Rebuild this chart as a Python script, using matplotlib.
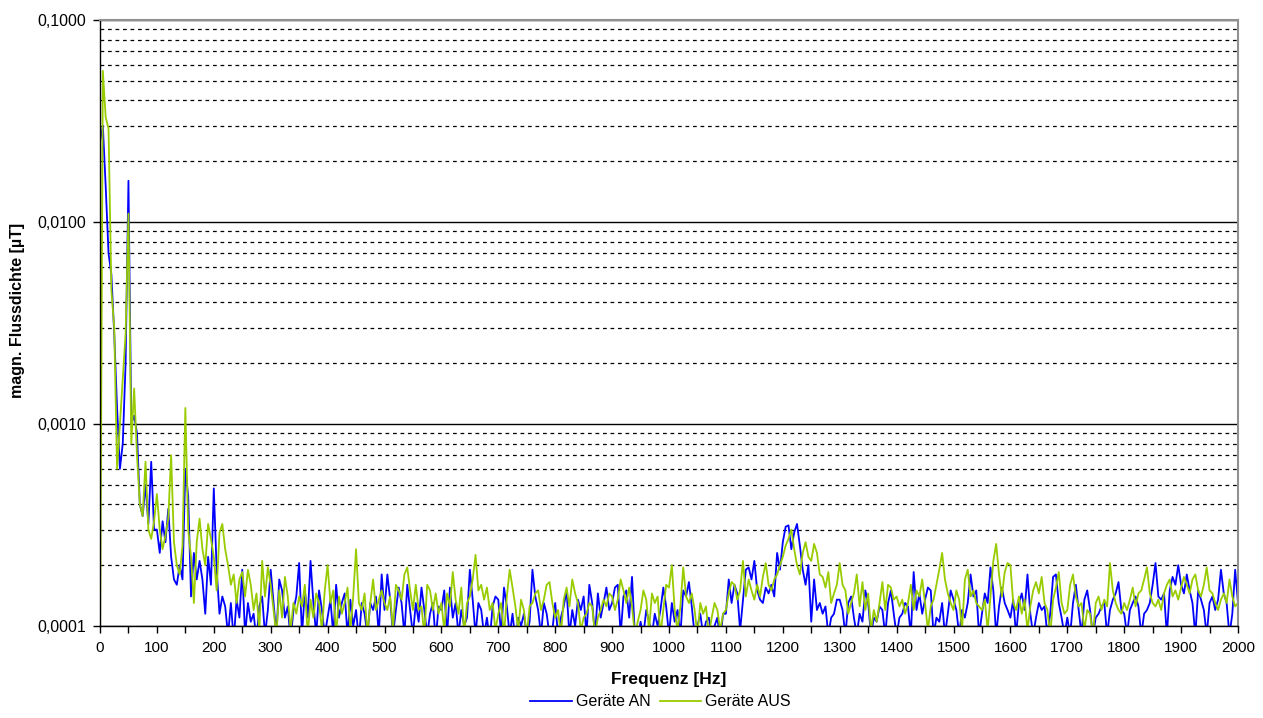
import numpy as np
import matplotlib
matplotlib.use("Agg")
import matplotlib.pyplot as plt
from matplotlib.ticker import MultipleLocator, FixedLocator, NullFormatter

plt.rcParams['font.family'] = ['Liberation Sans', 'DejaVu Sans']

# Frequency grid of the readings (Hz)
freq = np.arange(0, 2001, 5)

# Magnetic flux density, in units of 1e-4 µT
# (values below 1 sit under the bottom edge of the chart)
geraete_an_e4 = [
    250, 300, 150, 70, 55, 28, 12, 6, 8, 20, 160, 10, 11, 9, 4, 3.5, 5, 3.2, 6.5, 3.0,
    3.0, 2.3, 3.3, 2.6, 3.8, 2.2, 1.7, 1.6, 2.0, 1.7, 6.0, 4.4, 1.4, 2.3, 1.7, 2.1, 1.7, 1.15, 2.2, 1.6,
    4.8, 1.9, 1.15, 1.4, 1.25, 0.9, 1.3, 0.85, 1.35, 1.1, 1.9, 0.9, 1.3, 1.05, 1.15, 0.85, 1.25, 1.4, 0.9, 1.2,
    1.9, 1.3, 0.9, 1.7, 1.5, 1.1, 1.25, 0.85, 1.2, 1.4, 2.05, 0.9, 1.5, 1.1, 2.1, 1.3, 0.9, 1.5, 1.2, 0.9,
    1.1, 1.35, 0.9, 1.6, 1.1, 1.3, 1.45, 0.9, 1.35, 1.0, 1.2, 0.85, 1.3, 1.15, 0.9, 1.3, 1.2, 1.4, 0.9, 1.8,
    1.2, 1.8, 1.35, 0.9, 1.2, 1.55, 1.3, 0.9, 1.6, 1.2, 0.9, 1.3, 1.05, 1.55, 1.2, 0.9, 1.15, 1.3, 0.85, 1.25,
    1.2, 1.5, 0.9, 1.55, 1.1, 1.3, 0.9, 1.2, 1.0, 1.1, 1.9, 1.35, 0.9, 1.3, 1.2, 0.9, 1.1, 0.85, 1.25, 1.4,
    1.35, 0.9, 1.55, 1.25, 0.9, 1.15, 0.85, 1.1, 1.0, 1.15, 0.9, 1.05, 1.9, 1.4, 1.2, 0.9, 1.3, 1.15, 0.9, 0.95,
    1.3, 0.9, 1.1, 1.25, 1.5, 0.9, 1.2, 1.0, 1.35, 1.2, 1.4, 0.9, 1.6, 1.3, 0.9, 1.45, 1.1, 1.3, 1.55, 1.2,
    1.3, 1.55, 1.6, 0.9, 1.4, 1.5, 1.1, 1.75, 0.9, 0.85, 1.05, 0.9, 1.2, 1.05, 0.9, 1.15, 1.0, 1.2, 1.55, 1.25,
    0.9, 1.3, 1.05, 1.2, 0.9, 1.5, 1.4, 1.65, 1.25, 0.9, 1.0, 1.15, 0.9, 1.05, 1.1, 0.9, 1.0, 1.1, 0.85, 1.15,
    1.15, 1.7, 1.3, 1.6, 1.45, 0.95, 1.35, 1.9, 1.95, 1.7, 2.1, 1.5, 1.35, 1.3, 1.55, 1.45, 1.6, 1.4, 2.3, 1.9,
    2.6, 3.1, 3.15, 2.4, 2.9, 3.2, 2.5, 1.9, 1.6, 2.0, 1.05, 1.7, 1.2, 1.3, 1.15, 1.25, 0.9, 1.1, 1.15, 1.35,
    1.35, 1.2, 0.9, 1.3, 1.4, 1.1, 0.9, 1.15, 1.05, 1.5, 1.3, 0.9, 1.1, 1.05, 1.25, 1.2, 0.9, 1.3, 1.5, 1.15,
    0.9, 1.1, 1.15, 1.3, 1.25, 0.9, 1.85, 1.2, 1.45, 1.15, 1.35, 1.55, 1.5, 0.9, 1.1, 1.05, 1.3, 0.9, 1.15, 1.5,
    1.35, 1.2, 0.9, 1.2, 1.1, 1.3, 1.8, 1.4, 1.5, 0.9, 1.15, 1.45, 1.3, 1.95, 1.5, 0.9, 1.25, 1.55, 1.3, 1.2,
    1.1, 1.35, 0.9, 1.3, 1.45, 1.2, 1.8, 1.15, 0.9, 1.1, 1.3, 1.2, 1.25, 0.9, 1.15, 1.75, 1.8, 1.3, 1.1, 0.9,
    1.1, 0.9, 1.3, 1.6, 1.2, 0.9, 1.35, 1.5, 1.2, 0.9, 1.1, 1.15, 1.25, 1.3, 0.9, 1.2, 1.35, 1.45, 1.65, 1.2,
    1.15, 0.9, 1.2, 1.3, 1.4, 1.25, 0.9, 1.15, 1.2, 1.3, 1.6, 2.05, 1.4, 1.35, 1.45, 0.9, 1.5, 1.75, 1.6, 2.0,
    1.6, 1.45, 1.8, 1.5, 1.3, 0.9, 1.5, 1.35, 1.2, 0.9, 1.3, 1.4, 1.2, 1.35, 1.9, 1.45, 1.3, 0.9, 1.15, 1.9,
    1.3,
]

geraete_aus_e4 = [
    0.7, 560, 330, 290, 46, 30, 6, 10, 17, 28, 110, 8, 15, 7, 4, 3.5, 6.5, 3.0, 2.7, 3.3,
    4.5, 3.0, 2.4, 2.8, 3.4, 7.0, 2.6, 2.0, 1.8, 2.5, 12, 3.0, 2.2, 1.3, 2.6, 3.4, 2.4, 2.0, 3.2, 2.7,
    2.2, 1.5, 2.9, 3.2, 2.4, 2.0, 1.6, 1.8, 1.3, 1.7, 1.85, 1.4, 1.9, 1.6, 1.2, 1.45, 0.95, 2.1, 1.4, 1.95,
    1.6, 1.2, 0.9, 1.5, 1.1, 1.75, 1.4, 0.95, 1.3, 1.15, 1.4, 1.25, 1.6, 0.9, 1.35, 1.1, 1.45, 1.3, 0.95, 1.5,
    2.0, 1.3, 1.5, 0.9, 1.4, 1.15, 1.3, 1.55, 0.95, 1.4, 2.4, 1.3, 1.2, 1.45, 0.9, 1.3, 1.7, 1.2, 1.35, 1.5,
    1.3, 1.2, 1.4, 0.95, 1.6, 1.5, 1.35, 1.8, 1.95, 1.5, 1.2, 1.6, 1.2, 1.25, 0.9, 1.6, 1.5, 1.2, 1.45, 1.15,
    1.3, 0.95, 1.45, 1.25, 1.85, 1.35, 1.15, 1.55, 0.9, 1.3, 1.4, 1.7, 2.25, 1.5, 1.6, 1.35, 1.55, 1.2, 1.3, 0.95,
    1.15, 1.3, 0.9, 1.4, 1.9, 1.55, 1.25, 0.95, 1.35, 1.2, 0.9, 1.25, 1.3, 1.45, 1.5, 1.2, 1.35, 1.6, 1.65, 1.3,
    1.1, 1.2, 0.9, 1.35, 1.55, 1.25, 1.7, 1.45, 1.3, 0.95, 1.1, 1.15, 1.3, 1.25, 0.9, 1.1, 1.2, 1.35, 1.25, 1.45,
    1.4, 1.2, 1.35, 1.7, 1.5, 1.3, 1.55, 1.25, 0.9, 1.05, 1.2, 1.5, 1.35, 0.95, 1.45, 1.3, 1.4, 0.9, 1.2, 1.6,
    1.55, 2.0, 1.2, 0.95, 1.25, 1.95, 1.4, 1.3, 1.45, 1.2, 0.9, 1.3, 1.15, 1.25, 0.9, 1.1, 1.3, 1.2, 0.95, 1.15,
    1.2, 1.45, 1.65, 1.6, 1.35, 1.5, 2.1, 1.4, 1.7, 1.5, 1.35, 1.6, 1.4, 1.75, 2.05, 1.6, 1.5, 1.7, 1.8, 2.0,
    2.2, 2.5, 2.7, 3.0, 2.4, 2.0, 1.8, 2.3, 2.6, 2.2, 2.1, 2.55, 2.3, 1.8, 1.75, 1.55, 1.85, 1.3, 1.45, 1.6,
    2.05, 1.6, 1.5, 1.15, 1.3, 1.45, 1.8, 1.25, 1.65, 1.2, 1.45, 0.95, 1.2, 1.05, 1.3, 1.65, 1.2, 1.6, 1.55, 1.35,
    1.4, 1.25, 1.35, 1.15, 1.3, 1.6, 1.2, 1.5, 1.4, 1.7, 1.3, 0.95, 1.25, 1.35, 1.6, 1.9, 2.3, 1.7, 1.45, 1.3,
    1.2, 1.5, 1.35, 0.95, 1.7, 1.9, 1.4, 1.5, 1.3, 1.25, 1.2, 1.35, 0.95, 1.4, 2.1, 2.55, 1.8, 1.4, 1.85, 2.05,
    2.0, 1.3, 1.2, 1.4, 1.15, 1.35, 0.95, 1.25, 1.5, 1.65, 1.45, 1.75, 1.3, 1.2, 0.9, 1.35, 1.55, 1.85, 1.3, 1.15,
    1.2, 1.6, 1.8, 1.4, 1.25, 1.3, 0.95, 1.2, 1.15, 0.9, 1.3, 1.4, 1.2, 1.35, 1.25, 2.05, 1.5, 1.3, 1.2, 1.15,
    1.3, 1.2, 1.35, 1.55, 1.25, 1.45, 1.5, 1.7, 1.95, 1.45, 1.3, 1.25, 1.35, 1.2, 1.45, 1.6, 1.7, 1.4, 1.5, 1.35,
    1.55, 1.75, 1.6, 1.45, 1.7, 1.8, 1.5, 1.4, 1.6, 1.95, 1.5, 1.45, 1.3, 1.2, 1.35, 1.45, 1.3, 1.7, 1.4, 1.25,
    1.3,
]

series_names = ["Geräte AN", "Geräte AUS"]
series_colors = ["#0000FF", "#99CC00"]

y_ticks = [0.0001, 0.001, 0.01, 0.1]
y_tick_labels = ["0,0001", "0,0010", "0,0100", "0,1000"]
x_ticks = list(range(0, 2001, 100))
x_tick_labels = [str(t) for t in x_ticks]


def main():
    an = np.array(geraete_an_e4) * 1e-4
    aus = np.array(geraete_aus_e4) * 1e-4

    fig = plt.figure(figsize=(12.63, 7.18), dpi=100)
    ax = fig.add_axes([100 / 1263, 1 - 626 / 718, 1138 / 1263, 606 / 718])

    # Excel draws the first series underneath
    ax.plot(freq, an, color=series_colors[0], lw=1.3, label=series_names[0])
    ax.plot(freq, aus, color=series_colors[1], lw=1.3, label=series_names[1])

    ax.set_yscale("log")
    ax.set_ylim(1e-4, 1e-1)
    ax.set_xlim(0, 2000)

    ax.yaxis.set_major_locator(FixedLocator(y_ticks))
    ax.set_yticklabels(y_tick_labels)
    ax.yaxis.set_minor_locator(FixedLocator(
        [m * 10.0 ** e for e in (-4, -3, -2) for m in range(2, 10)]))
    ax.yaxis.set_minor_formatter(NullFormatter())

    ax.set_xticks(x_ticks)
    ax.set_xticklabels(x_tick_labels)
    ax.xaxis.set_minor_locator(MultipleLocator(50))

    # gridlines: solid per decade, dashed in between
    ax.grid(True, which="major", axis="y", color="black", lw=1.0, ls="-")
    ax.grid(True, which="minor", axis="y", color="black", lw=0.9, ls=(0, (3, 3)))
    ax.set_axisbelow(True)

    ax.tick_params(axis="y", which="major", direction="out", length=5,
                   width=1, labelsize=11.5, pad=5, colors="black")
    ax.tick_params(axis="x", which="major", direction="out", length=5,
                   width=1, labelsize=11, pad=6, colors="black")
    ax.tick_params(axis="x", which="minor", direction="out", length=5, width=1)
    ax.tick_params(axis="y", which="minor", length=0)

    for side in ("left", "bottom"):
        ax.spines[side].set_color("black")
        ax.spines[side].set_linewidth(1)
    for side in ("top", "right"):
        ax.spines[side].set_color("#909090")
        ax.spines[side].set_linewidth(1.5)

    ax.set_xlabel("Frequenz [Hz]", fontsize=12.5, fontweight="bold", labelpad=12)
    ax.set_ylabel("magn. Flussdichte [µT]", fontsize=11.5, fontweight="bold")
    ax.yaxis.set_label_coords(-0.066, 0.52)

    fig.legend(loc="center", bbox_to_anchor=(0.523, 16 / 718), ncol=2, frameon=False,
               fontsize=11.5, handlelength=2.6, columnspacing=0.6, handletextpad=0.25)

    fig.savefig("out.png", dpi=100)


if __name__ == "__main__":
    main()
